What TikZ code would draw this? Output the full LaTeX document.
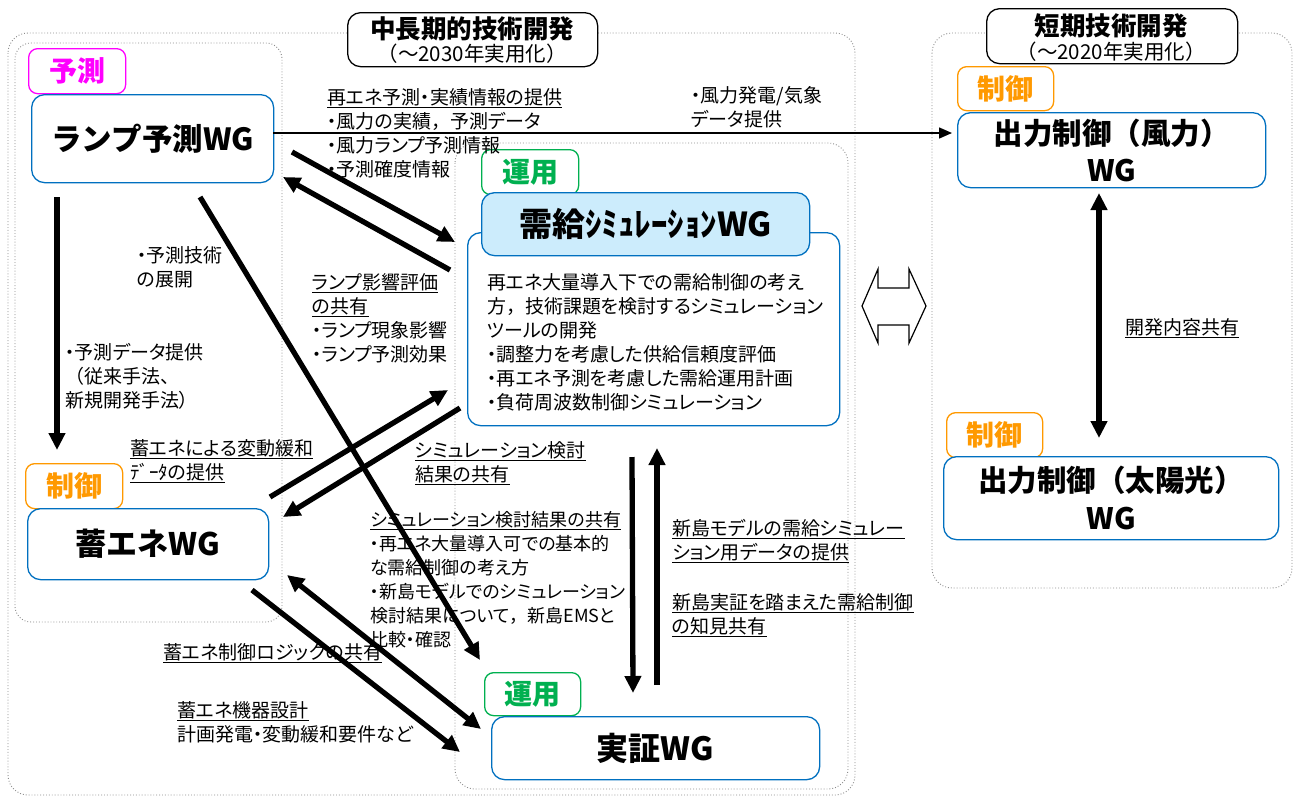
\documentclass[tikz,border=0pt]{standalone}
\usepackage{fontspec}
\setmainfont{Noto Sans CJK JP}
\newfontfamily\jp{Noto Sans CJK JP}[RawFeature=+palt]
\newfontfamily\jpn{Noto Sans CJK JP}
\usetikzlibrary{arrows.meta}
\definecolor{wgblue}{RGB}{0,112,192}
\definecolor{hdrfill}{RGB}{204,236,252}
\definecolor{tagmag}{RGB}{255,0,255}
\definecolor{tagor}{RGB}{255,153,0}
\definecolor{taggr}{RGB}{0,176,80}
\newcommand{\myul}[1]{\underline{#1}}
\newcommand{\fw}{{\jpn ，}}
\begin{document}
\begin{tikzpicture}[x=1pt,y=-1pt,
  dotframe/.style={draw=black!45, dotted, line width=0.9pt, rounded corners=20pt},
  wg/.style={draw=wgblue, line width=1.3pt, rounded corners=13pt, fill=white, inner sep=0pt, anchor=north west, align=center},
  tagbox/.style={line width=1.3pt, rounded corners=9pt, fill=white, inner sep=0pt, anchor=north west, font=\jpn\bfseries\fontsize{28}{30}\selectfont},
  ttl/.style={draw=black, line width=1.3pt, rounded corners=13pt, fill=white, inner sep=0pt, anchor=north west},
  lbl/.style={inner sep=0pt, anchor=north west, align=left, font=\jp\fontsize{19}{24}\selectfont},
  bigarr/.style={line width=5.3pt, -{Triangle[length=17pt,width=16pt]}},
  bigboth/.style={line width=5.3pt, {Triangle[length=17pt,width=16pt]}-{Triangle[length=17pt,width=16pt]}},
  thinarr/.style={line width=1.5pt, -{Triangle[length=13pt,width=11pt]}},
]
\useasboundingbox (0,0) rectangle (1297,798);
\fill[white] (0,0) rectangle (1297,798);

% dotted frames
\draw[dotframe] (8,33) rectangle (855,795);
\draw[dotframe, rounded corners=16pt] (15,43) rectangle (282,622);
\draw[dotframe] (455,143) rectangle (848,789);
\draw[dotframe] (932,33) rectangle (1292,588);

% title boxes
\node[ttl, minimum width=250pt, minimum height=54pt] (t1) at (347,12) {};
\node[font=\jpn\bfseries\fontsize{25.5}{30}\selectfont, inner sep=0pt] (t1a) at (472,29) {中長期的技術開発};
\node[font=\jpn\fontsize{20.5}{24}\selectfont, inner sep=0pt] (t1b) at (472,54) {（～2030年実用化）};
\node[ttl, minimum width=251pt, minimum height=55pt] (t2) at (986,8) {};
\node[font=\jpn\bfseries\fontsize{25.5}{30}\selectfont, inner sep=0pt] (t2a) at (1111,26) {短期技術開発};
\node[font=\jpn\fontsize{20.5}{24}\selectfont, inner sep=0pt] (t2b) at (1111,52) {（～2020年実用化）};

% WG boxes and tags
\node[tagbox, draw=tagmag, text=tagmag, minimum width=97pt, minimum height=45pt] (tagyo) at (28,48) {予測};
\node[wg, minimum width=242pt, minimum height=88pt, font=\jpn\bfseries\fontsize{30.5}{36}\selectfont] (lamp) at (31,94) {ランプ予測WG};

\node[tagbox, draw=tagor, text=tagor, minimum width=96pt, minimum height=44pt] (tagc1) at (957,66) {制御};
\node[wg, minimum width=308pt, minimum height=75pt, font=\jpn\bfseries\fontsize{29.5}{37}\selectfont] (wind) at (957,112) {出力制御（風力）\\WG};

\node[tagbox, draw=tagor, text=tagor, minimum width=96pt, minimum height=45pt] (tagc2) at (946,412) {制御};
\node[wg, minimum width=335pt, minimum height=83pt, font=\jpn\bfseries\fontsize{29.5}{38}\selectfont] (solar) at (943,456) {出力制御（太陽光）\\WG};

\node[tagbox, draw=taggr, text=taggr, minimum width=97pt, minimum height=45pt] (tagu1) at (481,149) {運用};
\node[wg, minimum width=372pt, minimum height=193pt] (simbody) at (467,232) {};
\node[wg, fill=hdrfill, minimum width=328pt, minimum height=63pt, font=\jpn\bfseries\fontsize{33}{36}\selectfont] (simhdr) at (481,192) {需給ｼﾐｭﾚｰｼｮﾝWG};
\node[lbl] (simtext) at (487,273) {再エネ大量導入下での需給制御の考え\\方\fw 技術課題を検討するシミュレーション\\ツールの開発\\・調整力を考慮した供給信頼度評価\\・再エネ予測を考慮した需給運用計画\\・負荷周波数制御シミュレーション};

\node[tagbox, draw=tagor, text=tagor, minimum width=97pt, minimum height=45pt] (tagc3) at (25,463) {制御};
\node[wg, minimum width=241pt, minimum height=71pt, font=\jpn\bfseries\fontsize{31}{36}\selectfont] (chiku) at (27,508) {蓄エネWG};

\node[tagbox, draw=taggr, text=taggr, minimum width=96pt, minimum height=43pt] (tagu2) at (484,672) {運用};
\node[wg, minimum width=328pt, minimum height=63pt, font=\jpn\bfseries\fontsize{32}{36}\selectfont] (jissho) at (491,716) {実証WG};

% labels
\node[lbl] (l1) at (327,88) {\myul{再エネ予測・実績情報の提供}\\・風力の実績\fw 予測データ\\・風力ランプ予測情報\\・予測確度情報};
\node[lbl] (l2) at (691,86) {・風力発電/気象\\データ提供};
\node[lbl] (l3) at (137,246) {・予測技術\\の展開};
\node[lbl] (l4) at (65,343) {・予測データ提供\\{\jpn （}従来手法、\\新規開発手法）};
\node[lbl] (l5) at (312,273) {\myul{ランプ影響評価}\\\myul{の共有}\\・ランプ現象影響\\・ランプ予測効果};
\node[lbl] (l6) at (130,439) {\myul{蓄エネによる変動緩和}\\\myul{ﾃﾞｰﾀの提供}};
\node[lbl] (l7) at (415,441) {\myul{シミュレーション検討}\\\myul{結果の共有}};
\node[lbl, font=\jp\fontsize{18}{24}\selectfont] (l8) at (370,511) {\myul{シミュレーション検討結果の共有}\\・再エネ大量導入可での基本的\\な需給制御の考え方\\・新島モデルでのシミュレーション\\検討結果について\fw 新島EMSと\\比較・確認};
\node[lbl] (l9) at (672,519) {\myul{新島モデルの需給シミュレー}\\\myul{ション用データの提供}};
\node[lbl] (l10) at (672,593) {\myul{新島実証を踏まえた需給制御}\\\myul{の知見共有}};
\node[lbl] (l11) at (163,643) {\myul{蓄エネ制御ロジックの共有}};
\node[lbl] (l12) at (177,701) {\myul{蓄エネ機器設計}\\計画発電・変動緩和要件など};
\node[lbl] (l13) at (1125,318) {\myul{開発内容共有}};

% hollow double arrow
\draw[line width=1.2pt, fill=white] (862,306) -- (878,269) -- (878,288) -- (909,288) -- (909,269) -- (926,306) -- (909,343) -- (909,325) -- (878,325) -- (878,343) -- cycle;

% connector end points
\coordinate (a1s) at (57,197);  \coordinate (a1e) at (57,450);
\coordinate (a2s) at (200,197); \coordinate (a2e) at (480,660);
\coordinate (a3s) at (292,152); \coordinate (a3e) at (455,242);
\coordinate (a4s) at (450,270); \coordinate (a4e) at (283,177);
\coordinate (a5s) at (270,497); \coordinate (a5e) at (448,390);
\coordinate (a6s) at (460,408); \coordinate (a6e) at (283,517);
\coordinate (a7s) at (287,575); \coordinate (a7e) at (481,729);
\coordinate (a8s) at (252,590); \coordinate (a8e) at (460,752);
\coordinate (a9s) at (632,457); \coordinate (a9e) at (633,693);
\coordinate (a10s) at (657,685); \coordinate (a10e) at (657,448);
\coordinate (a11s) at (1099,193); \coordinate (a11e) at (1099,438);
\coordinate (hs) at (273,133); \coordinate (he) at (952,133);

% connectors
\draw[thinarr] (hs) -- (he);
\draw[bigarr] (a1s) -- (a1e);
\draw[bigarr] (a2s) -- (a2e);
\draw[bigarr] (a3s) -- (a3e);
\draw[bigarr] (a4s) -- (a4e);
\draw[bigarr] (a5s) -- (a5e);
\draw[bigarr] (a6s) -- (a6e);
\draw[bigboth] (a7s) -- (a7e);
\draw[bigarr] (a8s) -- (a8e);
\draw[bigarr] (a9s) -- (a9e);
\draw[bigarr] (a10s) -- (a10e);
\draw[bigboth] (a11s) -- (a11e);
\end{tikzpicture}
\end{document}
